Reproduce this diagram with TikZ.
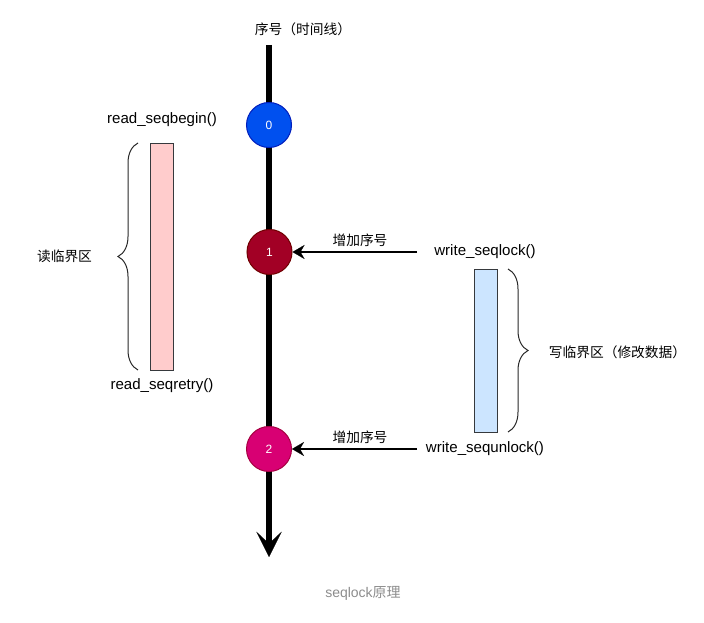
\documentclass[tikz,border=0pt]{standalone}
\usepackage{fontspec}
\setmainfont{Liberation Sans}
\newfontfamily\cjk{Noto Sans CJK SC}
\usetikzlibrary{arrows.meta}
\usetikzlibrary{decorations.pathreplacing}

\begin{document}
\begin{tikzpicture}[x=0.75pt,y=0.75pt,yscale=-1,xscale=1,
	seqnum/.style={circle,minimum size=33.75pt,inner sep=0pt,line width=0.75pt,text=white,font=\fontsize{9}{10}\selectfont},
	fnlabel/.style={inner sep=0.75pt,font=\fontsize{11.3}{13}\selectfont},
	cnlabel/.style={inner sep=0.75pt,font=\cjk\fontsize{10.3}{12}\selectfont},
	incarrow/.style={line width=1.5pt,-{Stealth[length=9pt,width=10.5pt,inset=3pt,line width=0.1pt]}},
	critbrace/.style={decorate,decoration={brace,amplitude=15pt},draw={rgb, 255:red, 40; green, 40; blue, 40 },line width=0.75pt}]
	\useasboundingbox (0,0) rectangle (704,623);

	%Shape: Line (timeline)
	\coordinate (tltop) at (269,45);
	\coordinate (tlend) at (269,557);
	\draw  [line width=4.5pt,-{Stealth[length=19pt,width=19pt,inset=9pt,line width=0.1pt]}] (tltop) -- (tlend);

	%Shape: Circle
	\node [seqnum,fill={rgb, 255:red, 0; green, 80; blue, 239 },draw={rgb, 255:red, 0; green, 29; blue, 188 }] (c0) at (269,125) {0};
	%Shape: Circle
	\node [seqnum,fill={rgb, 255:red, 162; green, 0; blue, 37 },draw={rgb, 255:red, 111; green, 0; blue, 0 }] (c1) at (269.5,252) {1};
	%Shape: Circle
	\node [seqnum,fill={rgb, 255:red, 216; green, 0; blue, 115 },draw={rgb, 255:red, 165; green, 0; blue, 64 }] (c2) at (269,449) {2};

	%Shape: Rectangle (read side)
	\draw  [draw={rgb, 255:red, 54; green, 57; blue, 61 },fill={rgb, 255:red, 255; green, 204; blue, 204 }] (150,143) rectangle (173,370);
	%Shape: Brace
	\draw  [critbrace] (138,370) -- (138,143);
	%Shape: Rectangle (write side)
	\draw  [draw={rgb, 255:red, 54; green, 57; blue, 61 },fill={rgb, 255:red, 204; green, 229; blue, 255 }] (474,269) rectangle (497,432);
	%Shape: Brace
	\draw  [critbrace] (508,269) -- (508,432);

	%Straight Lines [arrows]
	\coordinate (lockin) at (417,252);
	\coordinate (unlockin) at (417,449);
	\draw  [incarrow] (lockin) -- (c1);
	\draw  [incarrow] (unlockin) -- (c2);

	% Text Node
	\node [cnlabel] (tltitle) at (303,29) {序号（时间线）};
	% Text Node
	\node [fnlabel] (rbegin) at (162,120) {read\_seqbegin()};
	% Text Node
	\node [fnlabel] (rretry) at (162,386) {read\_seqretry()};
	% Text Node
	\node [cnlabel] (rcrit) at (64.5,256) {读临界区};
	% Text Node
	\node [fnlabel] (wlock) at (485,252) {write\_seqlock()};
	% Text Node
	\node [fnlabel] (wunlock) at (485,449) {write\_sequnlock()};
	% Text Node
	\node [cnlabel] (wcrit) at (617.5,352) {写临界区（修改数据）};
	% Text Node
	\node [cnlabel] (inc1) at (360,240) {增加序号};
	% Text Node
	\node [cnlabel] (inc2) at (360,437) {增加序号};
	% Text Node
	\node [inner sep=0.75pt,font=\fontsize{10.5}{12}\selectfont,text={rgb, 255:red, 140; green, 140; blue, 140 }] (caption) at (363,593) {seqlock{\cjk 原理}};

\end{tikzpicture}
\end{document}
